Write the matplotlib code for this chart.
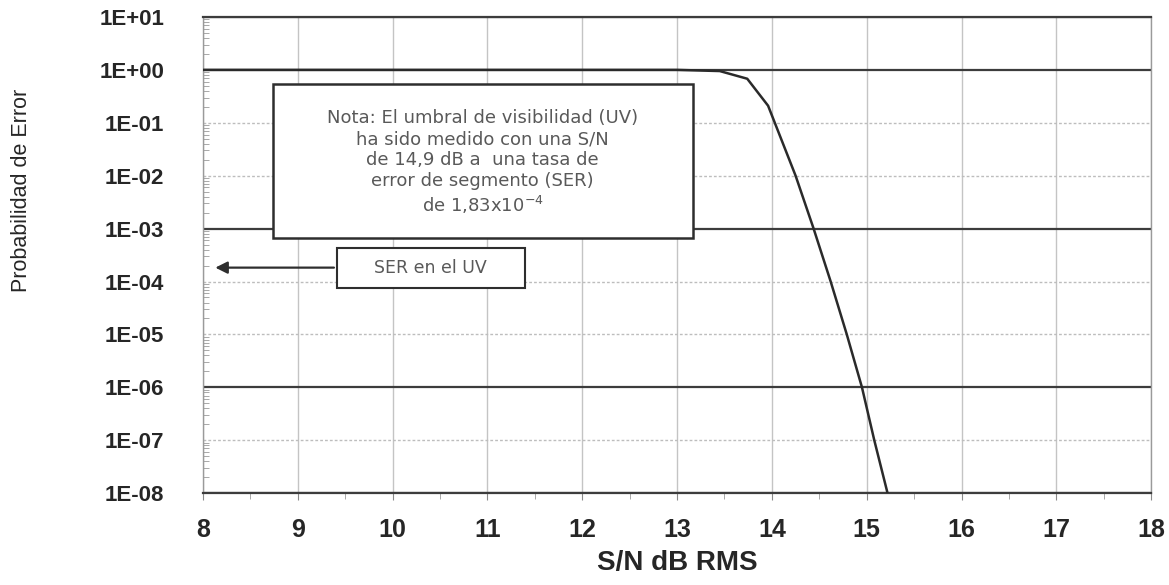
import numpy as np
import matplotlib
matplotlib.use('Agg')
from matplotlib import pyplot as plt
from matplotlib.patches import Rectangle
from matplotlib.ticker import FixedLocator, LogLocator, MultipleLocator, NullFormatter

plt.rcParams['font.family'] = ['Liberation Sans', 'DejaVu Sans']
plt.rcParams['mathtext.default'] = 'regular'

# curva de probabilidad de error
sn_db = [8.0, 13.0, 13.45, 13.74, 13.96, 14.25, 14.44, 14.62, 14.79, 14.95, 15.08, 15.22]
p_error = [1.0, 1.0, 0.95, 0.68, 0.21, 1e-2, 1e-3, 1e-4, 1e-5, 1e-6, 1e-7, 1e-8]

x_ticks = list(range(8, 19))
y_ticks = [1e1, 1e0, 1e-1, 1e-2, 1e-3, 1e-4, 1e-5, 1e-6, 1e-7, 1e-8]
y_labels = ['1E+01', '1E+00', '1E-01', '1E-02', '1E-03',
            '1E-04', '1E-05', '1E-06', '1E-07', '1E-08']
dark_lines = [1e1, 1e0, 1e-3, 1e-6, 1e-8]

ser_uv = 1.83e-4
nota = ('Nota: El umbral de visibilidad (UV)\n'
        'ha sido medido con una S/N\n'
        'de 14,9 dB a  una tasa de\n'
        'error de segmento (SER)\n'
        'de 1,83x10$^{-4}$')

fig = plt.figure(figsize=(11.69, 5.85), dpi=100)
ax = fig.add_axes([0.1737, 0.157, 0.811, 0.814])
ax.set_yscale('log')
ax.set_xlim(8, 18)
ax.set_ylim(1e-8, 1e1)

# rejilla
for x in x_ticks:
    ax.axvline(x, color='#c4c4c4', lw=1.0, zorder=1)
for y in y_ticks:
    if y in dark_lines:
        ax.axhline(y, color='#3c3c3c', lw=1.6, zorder=1)
    else:
        ax.axhline(y, color='#bdbdbd', lw=1.0, ls=(0, (2, 1.5)), zorder=1)

ax.plot(sn_db, p_error, color='#2a2a2a', lw=1.8, zorder=3)

# cuadro de la nota
ax.add_patch(Rectangle((8.74, 10**-3.17), 13.17 - 8.74, 10**-0.26 - 10**-3.17,
                       facecolor='white', edgecolor='#2e2e2e', lw=1.8, zorder=4))
ax.text(10.95, 10**-1.75, nota, ha='center', va='center', fontsize=13,
        family='DejaVu Sans', color='#595959', linespacing=1.2, zorder=5)

# cuadro SER y flecha
ax.add_patch(Rectangle((9.41, 10**-4.13), 11.40 - 9.41, 10**-3.36 - 10**-4.13,
                       facecolor='white', edgecolor='#2e2e2e', lw=1.5, zorder=4))
ax.text(10.40, 10**-3.74, 'SER en el UV', ha='center', va='center',
        fontsize=12.5, family='DejaVu Sans', color='#595959', zorder=5)
ax.annotate('', xy=(8.1, ser_uv), xytext=(9.41, ser_uv),
            arrowprops=dict(arrowstyle='-|>', color='#2e2e2e', lw=1.6,
                            mutation_scale=18), zorder=5)

ax.xaxis.set_major_locator(FixedLocator(x_ticks))
ax.set_xticklabels([str(v) for v in x_ticks])
ax.xaxis.set_minor_locator(MultipleLocator(0.5))
ax.yaxis.set_major_locator(FixedLocator(y_ticks))
ax.set_yticklabels(y_labels)
ax.yaxis.set_minor_locator(LogLocator(base=10, subs=np.arange(2, 10), numticks=20))
ax.yaxis.set_minor_formatter(NullFormatter())

ax.tick_params(axis='y', which='major', length=0, pad=28, labelsize=16,
               labelcolor='#262626')
ax.tick_params(axis='y', which='minor', length=4, direction='in', color='#9a9a9a')
ax.tick_params(axis='x', which='major', length=5, color='#8a8a8a', pad=13,
               labelsize=18, labelcolor='#262626')
ax.tick_params(axis='x', which='minor', length=4, color='#9a9a9a')
for lab in ax.get_xticklabels() + ax.get_yticklabels():
    lab.set_fontweight('bold')

for side in ['left', 'right']:
    ax.spines[side].set_color('#9a9a9a')
    ax.spines[side].set_linewidth(1.0)
ax.spines['top'].set_color('#3c3c3c')
ax.spines['top'].set_linewidth(1.6)
ax.spines['bottom'].set_color('#3c3c3c')
ax.spines['bottom'].set_linewidth(1.6)

ax.set_xlabel('S/N dB RMS', fontsize=20, fontweight='bold', color='#262626',
              labelpad=6)
fig.text(0.018, 0.675, 'Probabilidad de Error', rotation=90, ha='center',
         va='center', fontsize=15.5, color='#262626')

fig.savefig('out.png', dpi=100)
